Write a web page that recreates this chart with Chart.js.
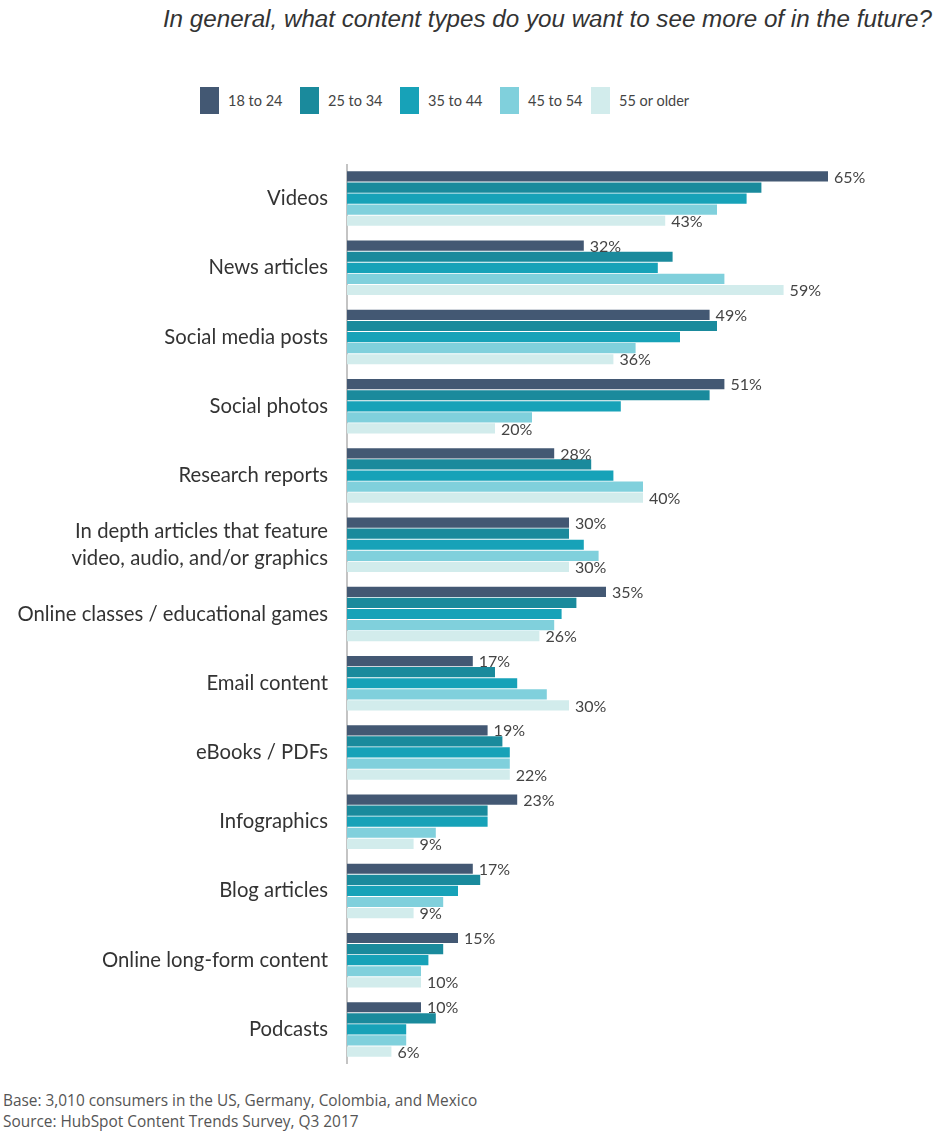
<!DOCTYPE html>
<html>
<head>
<meta charset="utf-8">
<title>Content types wanted in the future</title>
<script src="https://cdn.jsdelivr.net/npm/chart.js@4.4.1/dist/chart.umd.min.js"></script>
<style>
  body { margin: 0; background: #fff; }
  #wrap { position: relative; width: 942px; height: 1131px; overflow: hidden; }
  #title {
    position: absolute; right: 10px; top: 5px;
    font: italic 24.2px "Liberation Sans", Arial, sans-serif; color: #333;
  }
  #legend {
    position: absolute; left: 200px; top: 87px; display: flex;
    font: 14.5px Lato, sans-serif; color: #444;
  }
  #legend .item { display: flex; align-items: center; width: 100px; }
  #legend .item:nth-child(4) { width: 91px; }
  #legend .box { width: 19px; height: 27px; margin-right: 9px; }
  #chartBox { position: absolute; left: 0; top: 164px; width: 942px; height: 900px; }
  #note {
    position: absolute; left: 3px; top: 1090px;
    font: 15.4px "Open Sans", sans-serif; color: #555; line-height: 21px;
  }
</style>
</head>
<body>
<div id="wrap">
  <div id="title">In general, what content types do you want to see more of in the future?</div>
  <div id="legend"></div>
  <div id="chartBox"><canvas id="myChart"></canvas></div>
  <div id="note">Base: 3,010 consumers in the US, Germany, Colombia, and Mexico<br>Source: HubSpot Content Trends Survey, Q3 2017</div>
</div>
<script>
"use strict";

/* Data */
const categories = [
  'Videos', 'News articles', 'Social media posts', 'Social photos', 'Research reports',
  ['In depth articles that feature', 'video, audio, and/or graphics'],
  'Online classes / educational games', 'Email content', 'eBooks / PDFs',
  'Infographics', 'Blog articles', 'Online long-form content', 'Podcasts'
];
const ageGroups = ['18 to 24', '25 to 34', '35 to 44', '45 to 54', '55 or older'];
const age18to24 = [65, 32, 49, 51, 28, 30, 35, 17, 19, 23, 17, 15, 10];
const age25to34 = [56, 44, 50, 49, 33, 30, 31, 20, 21, 19, 18, 13, 12];
const age35to44 = [54, 42, 45, 37, 36, 32, 29, 23, 22, 19, 15, 11, 8];
const age45to54 = [50, 51, 39, 25, 40, 34, 28, 27, 22, 12, 13, 10, 8];
const age55plus = [43, 59, 36, 20, 40, 30, 26, 30, 22, 9, 9, 10, 6];
const colors = ['#435873', '#1a8a9c', '#17a2b8', '#80d0dc', '#d2ecec'];

const series = [age18to24, age25to34, age35to44, age45to54, age55plus];

// Legend
const legendEl = document.getElementById('legend');
ageGroups.forEach(function (name, i) {
  const item = document.createElement('div');
  item.className = 'item';
  item.innerHTML = '<span class="box" style="background:' + colors[i] + '"></span>' + name;
  legendEl.appendChild(item);
});

// Value labels only on youngest and oldest groups
const valueLabels = {
  id: 'valueLabels',
  afterDatasetsDraw: function (chart) {
    const ctx = chart.ctx;
    ctx.save();
    ctx.font = '16px Lato, sans-serif';
    ctx.fillStyle = '#444';
    ctx.textBaseline = 'middle';
    [0, 4].forEach(function (d) {
      chart.getDatasetMeta(d).data.forEach(function (bar, i) {
        ctx.fillText(chart.data.datasets[d].data[i] + '%', bar.x + 6, bar.y + 1);
      });
    });
    ctx.restore();
  }
};

const data = {
  labels: categories,
  datasets: series.map(function (vals, i) {
    return {
      label: ageGroups[i],
      data: vals,
      backgroundColor: colors[i],
      categoryPercentage: 0.8,
      barPercentage: 0.92
    };
  })
};

const config = {
  type: 'bar',
  data: data,
  options: {
    indexAxis: 'y',
    responsive: true,
    maintainAspectRatio: false,
    animation: false,
    layout: { padding: { right: 3 } },
    plugins: {
      legend: { display: false },
      tooltip: { enabled: false }
    },
    scales: {
      x: { display: false, min: 0, max: 80 },
      y: {
        grid: { display: false, drawTicks: false },
        border: { display: true, color: '#c4c4c4', width: 2 },
        ticks: {
          color: '#333',
          padding: 19,
          font: { family: 'Lato, sans-serif', size: 20.3, lineHeight: 1.35 }
        },
        afterFit: function (scale) {
          scale.width = 347;
          // keep the axis running the full box height
          scale.paddingTop = 0;
          scale.paddingBottom = 0;
        }
      }
    }
  },
  plugins: [valueLabels]
};

const myChart = new Chart(document.getElementById('myChart'), config);
</script>
</body>
</html>
